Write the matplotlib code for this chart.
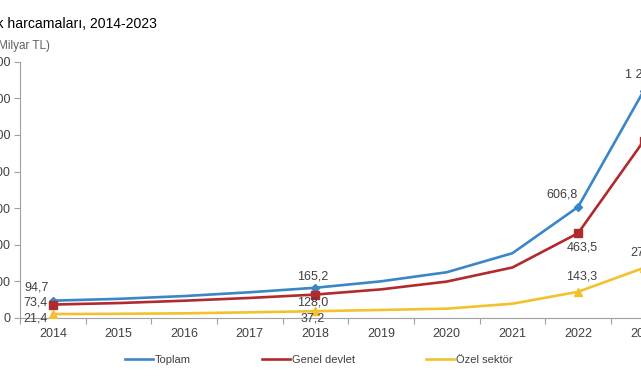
import matplotlib
matplotlib.use("Agg")
import matplotlib.pyplot as plt
from matplotlib.lines import Line2D

plt.rcParams['font.family'] = ['Liberation Sans', 'DejaVu Sans']

years = [2014, 2015, 2016, 2017, 2018, 2019, 2020, 2021, 2022, 2023]
toplam = [94.7, 104.6, 119.8, 140.6, 165.2, 200.4, 250.0, 354.0, 606.8, 1241.5]
genel = [73.4, 81.6, 94.4, 109.6, 128.0, 156.4, 199.0, 276.0, 463.5, 967.7]
ozel = [21.4, 23.0, 25.4, 31.0, 37.2, 44.0, 51.0, 78.0, 143.3, 273.8]
series_names = ["Toplam", "Genel devlet", "Özel sektör"]
y_ticks = [0, 200, 400, 600, 800, 1000, 1200, 1400]
labeled_idx = [0, 4, 8, 9]

colors = ["#3a86c6", "#b02a2e", "#f2c12e"]
markers = ["D", "s", "^"]
msizes = [4, 6, 6]

W, H = 641, 380
fig = plt.figure(figsize=(W / 100, H / 100), dpi=100)
ax_left, ax_right = 20, 676.6
ax_bottom, ax_top = 318, 61.7
ax = fig.add_axes([ax_left / W, 1 - ax_bottom / H, (ax_right - ax_left) / W, (ax_bottom - ax_top) / H])

for vals, c, m, ms in zip([toplam, genel, ozel], colors, markers, msizes):
    ax.plot(years, vals, color=c, lw=1.9, marker=m, markersize=ms, markevery=labeled_idx, zorder=3)

ax.set_xlim(years[0] - 0.5, years[-1] + 0.5)
ax.set_ylim(y_ticks[0], y_ticks[-1])


def fmt(v):
    return f"{v:,.1f}".replace(",", " ").replace(".", ",")

def fmt_tick(v):
    return f"{v:,}".replace(",", " ")

# offsets in pixels for labels (series, index)
offsets = {
    (0, 0): (-16, 13), (1, 0): (-17, 2), (2, 0): (-17, -4),
    (0, 4): (-3, 11), (1, 4): (-3, -8), (2, 4): (-3, -7),
    (0, 8): (-16, 12), (1, 8): (4, -14), (2, 8): (4, 15),
    (0, 9): (2, 16), (1, 9): (28, 0), (2, 9): (2, 15),
}
for si, vals in enumerate([toplam, genel, ozel]):
    for i in labeled_idx:
        dx, dy = offsets[(si, i)]
        ax.annotate(fmt(vals[i]), (years[i], vals[i]), xytext=(dx, dy),
                    textcoords='offset pixels', ha='center', va='center',
                    fontsize=9, color='#404040', annotation_clip=False, zorder=4)

for s in ['top', 'right']:
    ax.spines[s].set_visible(False)
for s in ['left', 'bottom']:
    ax.spines[s].set_color('#a0a0a0')
    ax.spines[s].set_linewidth(0.8)

ax.set_yticks(y_ticks)
ax.set_yticklabels([fmt_tick(v) for v in y_ticks])
ax.tick_params(axis='y', direction='out', length=4, color='#a0a0a0', labelsize=9, labelcolor='#404040', pad=3)

bounds = [y - 0.5 for y in years] + [years[-1] + 0.5]
ax.set_xticks(bounds)
ax.set_xticklabels([''] * len(bounds))
ax.set_xticks(years, minor=True)
ax.set_xticklabels([str(y) for y in years], minor=True)
ax.tick_params(axis='x', which='major', direction='out', length=4, color='#a0a0a0')
ax.tick_params(axis='x', which='minor', length=0, labelsize=9, labelcolor='#404040', pad=7)

fig.text(157 / W, 1 - 24 / H, "Sağlık harcamaları, 2014-2023", ha='right', va='center',
         fontsize=10.1, color='#000000')
fig.text(50 / W, 1 - 45.5 / H, "(Milyar TL)", ha='right', va='center', fontsize=8.5, color='#606060')

handles = [Line2D([], [], color=c, lw=1.9) for c in colors]
fig.legend(handles, series_names, loc='center left', bbox_to_anchor=(125 / W, 1 - 360 / H),
           ncol=3, frameon=False, fontsize=8, handlelength=2.5, handletextpad=0.2,
           columnspacing=6.4, borderpad=0, borderaxespad=0, labelcolor='#404040')

fig.savefig("out.png", dpi=100)
